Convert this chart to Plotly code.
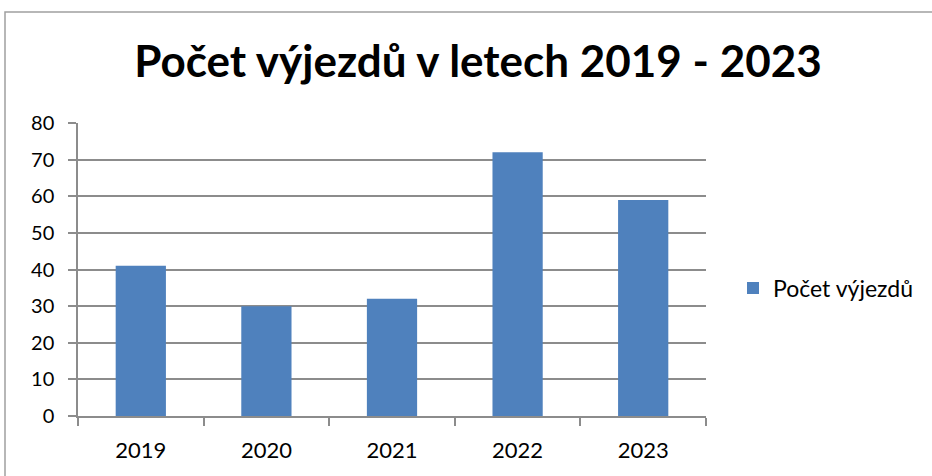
import plotly.graph_objects as go

years = ["2019", "2020", "2021", "2022", "2023"]
counts = [41, 30, 32, 72, 59]
series_name = "Počet výjezdů"
title_text = "Počet výjezdů v letech 2019 - 2023"

W, H = 932, 476
L, R, T, B = 78, 226, 123, 60
pw = W - L - R
ph = H - T - B

fig = go.Figure()
fig.add_trace(go.Bar(
    x=years, y=counts, name=series_name,
    marker=dict(color="#4F81BD", line=dict(width=0)),
    width=0.4, showlegend=True,
))

font = "Lato, 'Open Sans', sans-serif"
axis_color = "#8C8C8C"

def px_x(p):
    return (p - L) / pw

def px_y(p):
    return (H - B - p) / ph

fig.update_layout(
    width=W, height=H,
    margin=dict(l=L, r=R, t=T, b=B),
    paper_bgcolor="white", plot_bgcolor="white",
    font=dict(family=font, size=20, color="#000000"),
    title=dict(text="<b>" + title_text + "</b>", x=478 / W, xanchor="center",
               y=1 - 62 / H, yanchor="middle",
               font=dict(family=font, size=44, color="#000000")),
    showlegend=True,
    legend=dict(x=px_x(733), xanchor="left", y=px_y(288), yanchor="middle",
                font=dict(family=font, size=23, color="#000000"),
                bgcolor="rgba(0,0,0,0)"),
    bargap=0.6,
    xaxis=dict(type="category", showline=True, linecolor=axis_color, linewidth=1.5,
               ticks="outside", tickson="boundaries", ticklen=8, tickcolor=axis_color,
               tickwidth=1.5, showgrid=False, tickfont=dict(size=22),
               ticklabelstandoff=14),
    yaxis=dict(range=[0, 80], dtick=10, showline=True, linecolor=axis_color, linewidth=1.5,
               ticks="outside", ticklen=8, tickcolor=axis_color, tickwidth=1.5,
               showgrid=True, gridcolor=axis_color, gridwidth=1.5,
               zeroline=False, tickfont=dict(size=20), ticklabelstandoff=10),
    shapes=[dict(type="rect", xref="paper", yref="paper",
                 x0=px_x(5), x1=px_x(950), y0=px_y(12), y1=px_y(500),
                 line=dict(color="#A0A0A0", width=1.5), fillcolor="rgba(0,0,0,0)",
                 layer="below")],
)

fig.write_html("out.html", config={"displayModeBar": False},
               post_script="document.body.style.margin='0px';")
